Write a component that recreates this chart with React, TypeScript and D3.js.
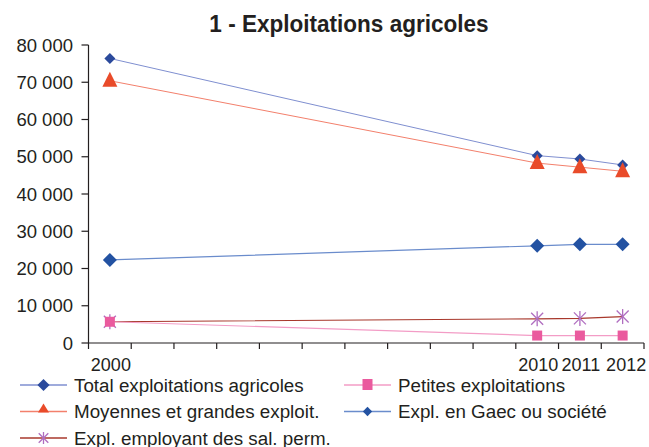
import React from "react";
import * as d3 from "d3";

const years = ["2000","2001","2002","2003","2004","2005","2006","2007","2008","2009","2010","2011","2012"];
const shownYears = ["2000","2010","2011","2012"];
const yTicks = [0, 10000, 20000, 30000, 40000, 50000, 60000, 70000, 80000];

const totalVals: (number | null)[] = [76400, null, null, null, null, null, null, null, null, null, 50300, 49400, 47800];
const moyennesVals: (number | null)[] = [70400, null, null, null, null, null, null, null, null, null, 48300, 47200, 46100];
const petitesVals: (number | null)[] = [5700, null, null, null, null, null, null, null, null, null, 2000, 2000, 2000];
const gaecVals: (number | null)[] = [22300, null, null, null, null, null, null, null, null, null, 26100, 26500, 26500];
const salariesVals: (number | null)[] = [5700, null, null, null, null, null, null, null, null, null, 6500, 6600, 7100];

const seriesNames = [
  "Total exploitations agricoles",
  "Petites exploitations",
  "Moyennes et grandes exploit.",
  "Expl. en Gaec ou société",
  "Expl. employant des sal. perm.",
];

type Marker = "diamond" | "bigdiamond" | "triangle" | "square" | "star";
interface Series { name: string; values: (number | null)[]; line: string; fill: string; marker: Marker; lw: number; }

const series: Series[] = [
  { name: seriesNames[0], values: totalVals, line: "#7f8fd0", fill: "#2b4a9c", marker: "diamond", lw: 1 },
  { name: seriesNames[2], values: moyennesVals, line: "#f3806c", fill: "#e94b2a", marker: "triangle", lw: 1 },
  { name: seriesNames[3], values: gaecVals, line: "#6a8ccc", fill: "#2352a2", marker: "bigdiamond", lw: 1.2 },
  { name: seriesNames[4], values: salariesVals, line: "#a8382c", fill: "#b06ec0", marker: "star", lw: 1.2 },
  { name: seriesNames[1], values: petitesVals, line: "#f39cc6", fill: "#ea5a9e", marker: "square", lw: 1.2 },
];

const legendOrder = [
  { idx: 0, col: 0, row: 0 },
  { idx: 4, col: 1, row: 0 },
  { idx: 1, col: 0, row: 1 },
  { idx: 2, col: 1, row: 1 },
  { idx: 3, col: 0, row: 2 },
];

function MarkerShape({ type, x, y, color, k = 1 }: { type: Marker; x: number; y: number; color: string; k?: number }) {
  if (type === "diamond" || type === "bigdiamond") {
    const r = (type === "diamond" ? 5.5 : 7) * k;
    return <path d={`M${x},${y - r}L${x + r},${y}L${x},${y + r}L${x - r},${y}Z`} fill={color} />;
  }
  if (type === "triangle") {
    const h = 15 * k, w = 15 * k;
    return <path d={`M${x},${y - h * 0.6}L${x + w / 2},${y + h * 0.4}L${x - w / 2},${y + h * 0.4}Z`} fill={color} />;
  }
  if (type === "square") {
    const s = 10 * k;
    return <rect x={x - s / 2} y={y - s / 2} width={s} height={s} fill={color} />;
  }
  const r = 7.5 * k;
  const d = r * 0.8;
  return (
    <g stroke={color} strokeWidth={1.3}>
      <line x1={x} y1={y - r} x2={x} y2={y + r} />
      <line x1={x - d} y1={y - d} x2={x + d} y2={y + d} />
      <line x1={x - d} y1={y + d} x2={x + d} y2={y - d} />
    </g>
  );
}

const FONT = "'Liberation Sans', Arial, sans-serif";

function T({ x, y, anchor = "start", size = 18.5, weight = "normal", sx = 1, children }: any) {
  return (
    <text transform={`translate(${x},${y}) scale(${sx},1)`} textAnchor={anchor} fontSize={size} fontWeight={weight} fontFamily={FONT} fill="#231f20">
      {children}
    </text>
  );
}

export default function App() {
  const W = 649, H = 447;
  const left = 88.5, right = 644, top = 45, bottom = 343;
  const x = d3.scaleBand<string>().domain(years).range([left, right]);
  const y = d3.scaleLinear().domain([0, 80000]).range([bottom, top]);
  const cx = (yr: string) => (x(yr) as number) + x.bandwidth() / 2;

  const line = d3.line<[string, number]>().x((d) => cx(d[0])).y((d) => y(d[1]));

  const fmt = (v: number) => (v === 0 ? "0" : `${Math.floor(v / 1000)} 000`);

  return (
    <svg width={W} height={H} style={{ position: "absolute", left: 0, top: 0, background: "#fff" }}>
      <rect width={W} height={H} fill="#fff" />
      <T x={349} y={32} anchor="middle" size={23} weight="bold" sx={0.98}>1 - Exploitations agricoles</T>

      {/* axes */}
      <line x1={left} x2={left} y1={top} y2={bottom} stroke="#231f20" strokeWidth={1.2} />
      <line x1={left} x2={right} y1={bottom} y2={bottom} stroke="#231f20" strokeWidth={1.2} />
      {yTicks.map((t) => (
        <g key={t}>
          <line x1={left - 7} x2={left} y1={y(t)} y2={y(t)} stroke="#231f20" strokeWidth={1.2} />
          <T x={73} y={y(t) + 6.5} anchor="end">{fmt(t)}</T>
        </g>
      ))}
      {[...years.map((yr) => x(yr) as number), right].map((px, i) => (
        <line key={i} x1={px} x2={px} y1={bottom} y2={bottom + 6} stroke="#231f20" strokeWidth={1.2} />
      ))}
      {shownYears.map((yr, i) => (
        <T key={yr} x={cx(yr) + (i === 3 ? 3.5 : 1)} y={371} anchor="middle" size={18}>{yr}</T>
      ))}

      {/* series */}
      {series.map((s) => {
        const pts = years.map((yr, i) => [yr, s.values[i]] as [string, number | null]).filter((p) => p[1] !== null) as [string, number][];
        return (
          <g key={s.name}>
            <path d={line(pts) || ""} fill="none" stroke={s.line} strokeWidth={s.lw} />
            {pts.map((p) => (
              <MarkerShape key={p[0]} type={s.marker} x={cx(p[0])} y={y(p[1])} color={s.fill} />
            ))}
          </g>
        );
      })}

      {/* legend */}
      {legendOrder.map(({ idx, col, row }) => {
        const s = series[idx];
        const lx = col === 0 ? 20 : 344;
        const ly = 385 + row * 26.5;
        return (
          <g key={s.name}>
            <line x1={lx} x2={lx + 47} y1={ly} y2={ly} stroke={s.line} strokeWidth={1.3} />
            {s.marker === "triangle" ? (
              <path d={`M${lx + 23.5},${ly - 8}L${lx + 29},${ly + 1}L${lx + 18},${ly + 1}Z`} fill={s.fill} />
            ) : s.marker === "square" ? (
              <rect x={lx + 23.5 - 5} y={ly - 6} width={10} height={11} fill={s.fill} />
            ) : s.marker === "bigdiamond" ? (
              <MarkerShape type="diamond" x={lx + 23.5} y={ly} color={s.fill} k={0.85} />
            ) : (
              <MarkerShape type={s.marker} x={lx + 23.5} y={ly} color={s.fill} k={s.marker === "star" ? 0.8 : 1.1} />
            )}
            <T x={lx + 54} y={ly + 6.5} size={18.8}>{s.name}</T>
          </g>
        );
      })}
    </svg>
  );
}
